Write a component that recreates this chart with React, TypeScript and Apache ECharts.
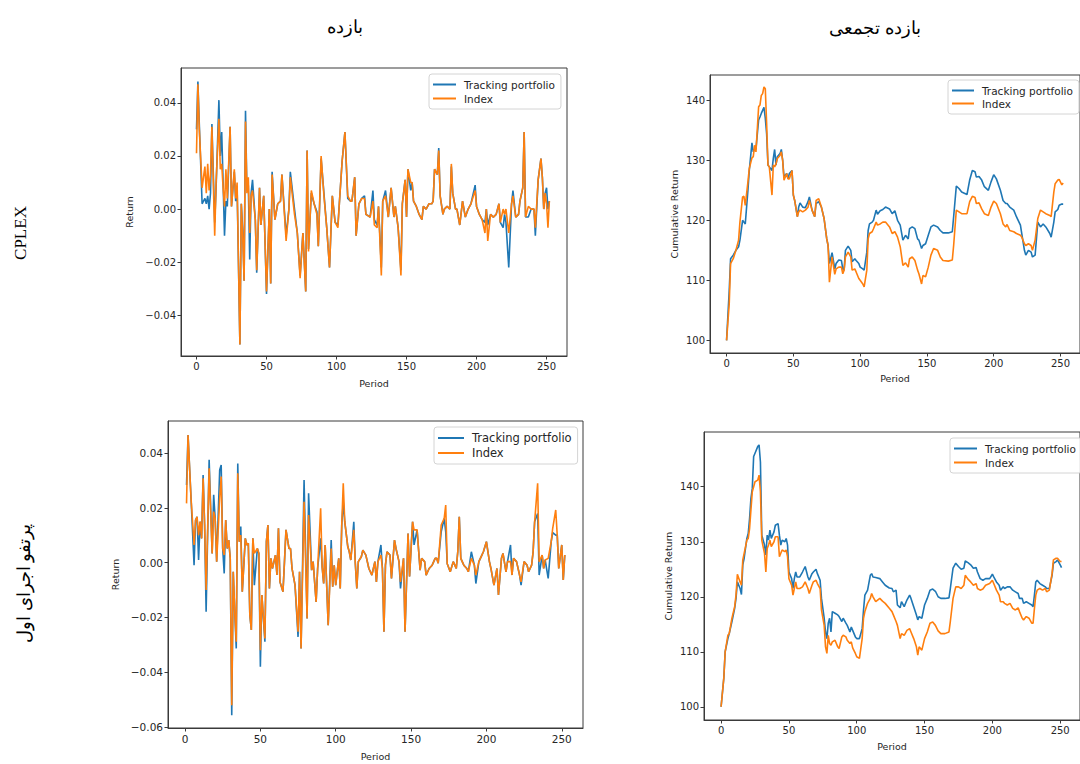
import React, { useEffect, useRef } from "react";
import * as echarts from "echarts";

// ---------- tick labels ----------
const periodTicks = [0, 50, 100, 150, 200, 250];
const returnTicksCplex = [-0.04, -0.02, 0, 0.02, 0.04];
const returnTicksRun1 = [-0.06, -0.04, -0.02, 0, 0.02, 0.04];
const cumulTicks = [100, 110, 120, 130, 140];

const seriesNames = ["Tracking portfolio", "Index"];
const colTitles = ["بازده", "بازده تجمعی"];
const rowTitles = ["CPLEX", "پرتفو اجرای اول"];

// ---------- Panel 1: CPLEX returns ----------
const cplexRetPeriods = [
  0, 1, 2, 4, 5, 6, 7, 8, 9, 10,
  11, 13, 14, 16, 17, 18, 19, 20, 21, 22,
  24, 25, 27, 28, 29, 31, 32, 33, 34, 35,
  36, 37, 38, 39, 40, 42, 43, 45, 46, 48,
  50, 52, 53, 54, 56, 58, 60, 61, 64, 66,
  67, 70, 72, 74, 76, 78, 79, 80, 82, 84,
  86, 87, 89, 91, 93, 95, 97, 99, 101, 102,
  104, 106, 108, 110, 111, 113, 114, 116, 118, 120,
  121, 124, 126, 127, 129, 130, 132, 133, 135, 137,
  139, 141, 142, 144, 146, 147, 149, 150, 151, 153,
  154, 155, 157, 159, 161, 162, 164, 166, 168, 169,
  170, 172, 173, 174, 176, 177, 179, 181, 182, 183,
  185, 186, 188, 190, 192, 194, 196, 199, 200, 202,
  204, 206, 207, 208, 210, 212, 214, 216, 217, 219,
  220, 221, 223, 225, 226, 228, 230, 231, 233, 234,
  235, 237, 239, 241, 242, 244, 246, 247, 248, 249,
  250, 251, 252,
];
const cplexRetTracking = [
  0.030, 0.048, 0.032, 0.002, 0.003, 0.004, 0.002, 0.005, 0.000, 0.006,
  0.032, -0.005, 0.008, 0.041, 0.020, 0.029, 0.010, -0.010, 0.003, 0.001,
  0.031, 0.001, 0.014, 0.003, 0.008, -0.051, 0.002, -0.008, -0.027, 0.037,
  0.007, 0.009, -0.019, 0.006, 0.011, -0.004, -0.024, 0.008, -0.006, 0.005,
  -0.032, 0.000, -0.028, 0.014, -0.004, 0.002, 0.003, 0.013, -0.010, 0.000,
  0.014, 0.000, -0.009, -0.025, -0.009, -0.031, 0.022, -0.015, 0.006, 0.002,
  -0.001, -0.014, 0.019, 0.006, -0.007, -0.022, 0.005, -0.005, -0.006, 0.002,
  0.018, 0.029, 0.004, 0.003, 0.003, 0.012, -0.010, 0.002, 0.004, 0.005,
  -0.002, -0.003, 0.007, -0.004, -0.006, 0.001, -0.022, 0.003, 0.007, -0.003,
  0.008, -0.003, 0.001, -0.007, -0.023, 0.002, 0.011, -0.003, 0.015, 0.007,
  0.010, 0.003, 0.001, -0.002, -0.004, 0.001, 0.000, 0.002, 0.002, 0.003,
  0.015, 0.013, 0.023, 0.005, -0.002, 0.000, 0.001, 0.000, 0.016, 0.006,
  0.000, 0.000, -0.006, 0.003, -0.003, 0.000, 0.002, 0.009, 0.001, -0.002,
  -0.004, -0.005, 0.000, -0.006, -0.002, -0.003, -0.002, 0.002, -0.005, -0.007,
  -0.002, -0.005, -0.022, 0.002, 0.007, -0.003, -0.002, 0.003, 0.008, 0.029,
  -0.003, -0.003, 0.000, 0.000, -0.010, 0.011, 0.019, 0.012, 0.000, 0.006,
  0.008, 0.000, 0.003,
];
const cplexRetIndex = [
  0.021, 0.047, 0.030, 0.008, 0.012, 0.016, 0.006, 0.017, 0.007, 0.013,
  0.031, -0.010, 0.010, 0.034, 0.015, 0.017, 0.008, 0.001, 0.015, 0.004,
  0.031, 0.001, 0.015, 0.004, 0.010, -0.051, 0.002, -0.010, -0.027, 0.033,
  0.006, 0.012, -0.009, 0.005, 0.007, -0.004, -0.023, 0.008, -0.006, 0.005,
  -0.031, 0.000, -0.028, 0.013, -0.004, 0.002, 0.003, 0.013, -0.012, 0.000,
  0.012, -0.002, -0.009, -0.026, -0.009, -0.031, 0.022, -0.016, 0.007, 0.002,
  -0.002, -0.014, 0.020, 0.005, -0.007, -0.022, 0.005, -0.005, -0.007, 0.002,
  0.018, 0.029, 0.005, 0.003, 0.003, 0.012, -0.010, 0.002, 0.004, 0.004,
  -0.002, -0.003, 0.003, -0.006, -0.007, 0.001, -0.025, 0.003, 0.005, -0.003,
  0.008, -0.003, 0.001, -0.007, -0.025, 0.002, 0.011, -0.003, 0.015, 0.010,
  0.010, 0.003, 0.001, -0.002, -0.004, 0.001, 0.000, 0.002, 0.002, 0.003,
  0.015, 0.013, 0.022, 0.005, -0.002, 0.000, 0.001, 0.000, 0.017, 0.006,
  0.000, 0.000, -0.006, 0.003, -0.003, 0.000, 0.002, 0.007, 0.001, -0.002,
  -0.004, -0.009, 0.000, -0.012, -0.002, -0.003, -0.002, 0.002, -0.005, 0.000,
  -0.002, 0.000, -0.009, 0.002, 0.005, -0.003, -0.002, 0.003, 0.008, 0.029,
  -0.003, 0.001, 0.000, 0.000, -0.007, 0.011, 0.019, 0.012, 0.000, 0.006,
  0.002, -0.007, 0.003,
];

// ---------- Panel 2: CPLEX cumulative return ----------
const cplexCumPeriods = [
  0, 2, 3, 5, 7, 9, 10, 12, 13, 14,
  16, 17, 19, 20, 21, 22, 24, 25, 26, 27,
  28, 29, 30, 31, 32, 34, 35, 36, 37, 38,
  40, 41, 42, 43, 45, 46, 47, 49, 50, 51,
  53, 54, 55, 57, 59, 61, 62, 64, 66, 67,
  69, 71, 73, 75, 76, 77, 79, 81, 82, 84,
  86, 87, 88, 89, 91, 93, 94, 96, 97, 99,
  100, 102, 103, 105, 106, 107, 109, 110, 112, 113,
  115, 117, 119, 122, 124, 126, 128, 130, 132, 134,
  136, 137, 139, 141, 143, 144, 146, 147, 149, 151,
  153, 155, 158, 160, 162, 166, 169, 170, 172, 174,
  176, 180, 182, 184, 186, 187, 189, 191, 193, 196,
  198, 200, 202, 205, 207, 209, 210, 212, 215, 217,
  220, 221, 223, 224, 226, 228, 229, 231, 233, 235,
  237, 239, 242, 243, 245, 246, 248, 249, 251, 252,
];
const cplexCumTracking = [
  100, 108.3, 113.6, 114.2, 115, 115.6, 116.7, 120, 119.7, 119.4,
  125, 128.3, 132.9, 131.4, 131.8, 131.9, 136.7, 137.2, 137.8, 138.3,
  138.8, 137, 134.4, 129.2, 128.9, 128.3, 130.3, 131.8, 129.2, 130.6,
  131.1, 131.8, 130, 127.2, 127.8, 126.9, 127.8, 128.3, 124.2, 123.3,
  120.6, 122.2, 122.9, 122.2, 122.1, 123.1, 123.9, 121.7, 120.6, 122.8,
  123.1, 122.2, 120.3, 116.9, 115.8, 112.8, 114.6, 111.9, 112.8, 113.4,
  113.3, 111.9, 111.7, 115, 115.7, 115, 113.1, 113.6, 113.3, 112.8,
  112.2, 111.9, 111.7, 114.7, 118.3, 119.4, 119.7, 120, 121.7, 121,
  121.6, 121.8, 122.2, 121.9, 121.1, 121.6, 120, 119.2, 116.7, 117.5,
  116.9, 118.6, 118.9, 118.6, 116.9, 116.7, 115.3, 115.8, 116.1, 117.5,
  118.9, 119.2, 118.9, 118.3, 117.9, 117.9, 118.1, 120.6, 125.7, 125.3,
  124.7, 124.3, 126.7, 128.3, 128.1, 127.2, 127.3, 126.7, 125.6, 125,
  126.4, 127.6, 126.9, 125, 123.3, 122.8, 122.8, 122.2, 121.7, 120.6,
  119.2, 117.8, 115, 114.2, 115, 114.7, 113.9, 114.2, 119.7, 118.9,
  119.4, 118.9, 117.8, 117.2, 119.7, 121.4, 121.8, 122.5, 122.7, 122.7,
];
const cplexCumIndex = [
  100, 106.1, 112.8, 113.6, 115, 116.7, 119.7, 123.9, 124, 122.5,
  126.4, 128.6, 130.4, 130.6, 132.5, 131.4, 138.9, 139.2, 140.8, 141.1,
  142.2, 141.9, 136.1, 129.2, 128.9, 124.2, 129.2, 128.9, 129.4, 130.3,
  130.8, 131.4, 130, 126.7, 127.8, 126.9, 126.9, 128.3, 124.2, 123.3,
  120.6, 121.4, 121.7, 121.4, 121.7, 122.2, 123.3, 121.7, 120.6, 123.3,
  123.6, 122.2, 120.3, 116.9, 115.8, 109.7, 113.9, 111, 111.9, 112.2,
  112.2, 111.1, 111.7, 113.9, 114.7, 113.9, 111.7, 111.9, 111.4, 110.3,
  110, 109.4, 108.9, 111.7, 116.9, 117.8, 118.1, 118.6, 119.7, 119.2,
  119.4, 119.7, 119.7, 118.9, 117.8, 118.1, 117.2, 115.6, 112.5, 112.9,
  112.2, 113.6, 113.9, 113.3, 111.7, 111.1, 109.4, 110.8, 110.6, 112.2,
  114.2, 115.3, 115, 113.9, 113.3, 113.2, 113.4, 115.8, 121.7, 121.4,
  121.1, 121.1, 123.1, 124, 123.8, 122.8, 122.9, 121.9, 121.1, 120.8,
  122.2, 123.2, 122.8, 121.1, 119.4, 118.9, 119.3, 118.3, 118.1, 117.8,
  117.5, 117.2, 116.1, 115.8, 116.1, 115.8, 115, 116.7, 120.3, 121.7,
  121.4, 121.1, 120.8, 120.6, 124.7, 126.1, 126.7, 126.8, 125.9, 126.2,
];

// ---------- Panel 3: first-run portfolio returns ----------
const run1RetPeriods = [
  1, 2, 4, 6, 7, 8, 9, 10, 11, 12,
  13, 14, 16, 18, 19, 20, 21, 23, 24, 25,
  26, 27, 28, 29, 30, 31, 32, 33, 34, 35,
  36, 37, 38, 40, 41, 42, 43, 44, 45, 46,
  48, 49, 50, 51, 53, 54, 55, 56, 57, 58,
  60, 61, 62, 63, 65, 66, 67, 69, 70, 71,
  73, 75, 76, 77, 79, 81, 82, 84, 85, 87,
  88, 90, 91, 92, 93, 95, 97, 98, 99, 100,
  102, 103, 104, 105, 106, 108, 109, 110, 112, 113,
  114, 115, 117, 118, 120, 122, 124, 126, 127, 128,
  130, 131, 132, 133, 134, 136, 137, 139, 140, 142,
  143, 145, 146, 148, 149, 151, 152, 154, 156, 157,
  159, 160, 162, 164, 166, 167, 168, 170, 172, 173,
  174, 176, 178, 180, 181, 182, 183, 185, 187, 188,
  190, 192, 193, 195, 197, 198, 200, 202, 203, 205,
  207, 208, 210, 211, 213, 214, 216, 217, 218, 220,
  222, 223, 225, 227, 228, 230, 231, 232, 234, 235,
  237, 238, 239, 241, 243, 244, 246, 247, 248, 250,
  251, 252,
];
const run1RetTracking = [
  0.0284, 0.0467, 0.0235, -0.0009, 0.0156, 0.0168, 0.001, 0.015, 0.0089, 0.0321,
  0.0138, -0.0179, 0.0376, 0.0034, 0.0248, 0.0162, 0.0004, 0.0339, 0.0357, 0.0052,
  -0.0039, 0.0156, 0.0052, 0.0083, 0.0016, -0.0557, -0.0033, -0.0179, -0.0313, 0.0363,
  0.0077, 0.0132, -0.0106, 0.0089, 0.0065, 0.0071, -0.0191, -0.0246, 0.0089, -0.0082,
  0.0052, 0.0034, -0.038, -0.0118, -0.0289, 0.0077, 0.0138, -0.0094, 0.0016, -0.0021,
  0.0028, -0.0045, 0.0126, -0.007, -0.0106, 0.0004, 0.012, 0.0052, 0.0052, -0.0021,
  -0.0082, -0.0271, -0.0033, -0.0313, 0.0302, -0.0204, 0.0254, -0.0027, 0.0004, -0.0143,
  -0.0021, 0.0089, -0.0015, -0.0076, 0.0065, -0.0228, 0.0083, -0.0088, -0.0009, -0.0082,
  0.0016, -0.0094, 0.0138, 0.0223, 0.015, 0.0059, 0.004, 0.001, 0.015, -0.0002,
  -0.0094, 0.0004, 0.0022, 0.0046, 0.0028, -0.0021, -0.0045, 0.0004, -0.007, 0.0004,
  0.0065, -0.0021, -0.0252, -0.0009, 0.004, 0.0028, -0.0057, 0.0083, 0.0052, 0.0004,
  -0.0094, 0.0016, -0.0252, 0.0107, -0.005, 0.015, 0.0065, 0.012, -0.0027, 0.0016,
  0.0004, -0.0045, -0.0021, -0.0009, 0.0016, 0.0016, -0.0002, 0.0113, 0.0162, 0.0113,
  -0.0004, -0.0033, 0.0004, -0.0021, 0.004, 0.0168, 0.0016, -0.0009, -0.0021, -0.0033,
  0.004, -0.0009, -0.0076, 0.0004, 0.0028, 0.004, 0.0077, 0.0004, -0.0021, -0.0082,
  -0.0021, -0.0118, 0.0016, 0.0034, -0.0033, 0.0004, 0.0065, -0.0045, 0.0016, 0.0004,
  -0.0045, -0.0082, 0.0004, -0.0009, -0.0033, -0.0009, 0.004, 0.015, 0.018, -0.0045,
  0.0028, -0.0021, 0.001, -0.0057, 0.0077, 0.011, 0.0101, 0.0101, -0.0021, 0.0065,
  -0.0063, 0.0028,
];
const run1RetIndex = [
  0.0217, 0.0467, 0.0235, 0.0065, 0.0156, 0.0168, 0.0101, 0.015, 0.0089, 0.0309,
  0.0138, -0.01, 0.0345, 0.0034, 0.0187, 0.0162, 0.0004, 0.0235, 0.0315, 0.0052,
  0.0028, 0.0156, 0.0052, 0.0083, 0.0016, -0.0521, -0.0033, -0.0179, -0.0289, 0.0327,
  0.0077, 0.0101, -0.0106, 0.0089, 0.0065, 0.0071, -0.0191, -0.0246, 0.0089, 0.0034,
  0.0052, 0.0034, -0.032, -0.0118, -0.0277, 0.0077, 0.0138, -0.0094, 0.0016, -0.0021,
  0.0028, -0.0045, 0.0126, -0.007, -0.0106, 0.0004, 0.012, 0.0052, 0.0052, -0.0021,
  -0.0082, -0.0252, -0.0033, -0.0313, 0.0223, -0.0204, 0.0174, -0.0027, 0.0004, -0.0143,
  -0.0021, 0.0199, -0.0015, -0.0076, 0.0065, -0.0228, 0.0052, -0.0088, -0.0009, -0.0082,
  0.0016, -0.0094, 0.0138, 0.029, 0.015, 0.0059, 0.004, 0.001, 0.012, -0.0002,
  -0.0094, 0.0004, 0.0022, 0.0046, 0.0028, -0.0021, -0.0045, 0.0004, -0.007, 0.0004,
  0.0028, -0.0021, -0.0252, -0.0009, 0.004, 0.0028, -0.0057, 0.0083, 0.0052, 0.0004,
  -0.007, 0.0016, -0.0252, 0.0107, -0.005, 0.015, 0.012, 0.012, -0.0027, 0.0016,
  0.0004, -0.0045, -0.0021, -0.0009, 0.0016, 0.0016, -0.0002, 0.0138, 0.0162, 0.0211,
  -0.0004, -0.0033, 0.0004, -0.0021, 0.004, 0.0168, 0.0016, -0.0009, -0.0021, -0.0033,
  0.0016, -0.0009, -0.0045, 0.0004, 0.0028, 0.004, 0.0077, 0.0004, -0.0021, -0.0082,
  -0.0021, -0.0118, 0.0016, 0.0034, -0.0033, 0.0004, 0.0004, -0.0045, 0.0016, 0.0004,
  -0.0045, -0.007, 0.0004, -0.0009, -0.0033, -0.0009, 0.004, 0.015, 0.029, 0.0004,
  0.0028, -0.0021, 0.001, 0.0016, 0.0077, 0.0126, 0.0193, 0.0101, -0.0021, 0.0065,
  -0.0063, 0.0028,
];

// ---------- Panel 4: first-run portfolio cumulative return ----------
const run1CumPeriods = [
  0, 2, 3, 5, 6, 8, 10, 11, 12, 14,
  15, 16, 17, 19, 20, 21, 22, 23, 24, 25,
  27, 28, 29, 30, 32, 33, 34, 35, 36, 37,
  39, 40, 42, 43, 44, 45, 47, 48, 49, 50,
  52, 53, 54, 55, 56, 58, 60, 62, 64, 65,
  67, 68, 70, 71, 73, 74, 76, 77, 78, 79,
  80, 81, 82, 84, 86, 87, 89, 90, 92, 93,
  95, 96, 97, 99, 100, 102, 104, 105, 106, 108,
  110, 111, 112, 114, 117, 119, 121, 124, 126, 127,
  129, 130, 132, 133, 135, 137, 139, 140, 142, 144,
  145, 146, 148, 150, 152, 154, 156, 158, 160, 162,
  165, 168, 169, 171, 173, 175, 177, 179, 180, 182,
  184, 186, 188, 189, 191, 193, 195, 198, 200, 201,
  203, 205, 206, 208, 209, 211, 213, 215, 217, 219,
  220, 222, 223, 225, 227, 229, 230, 231, 232, 233,
  235, 237, 239, 240, 242, 244, 245, 247, 248, 250,
  251,
];
const run1CumTracking = [
  100, 105.2, 110, 112.4, 113.3, 115.5, 117.9, 119.7, 122.7, 121.5,
  120.4, 125.8, 127, 130.6, 131.5, 134.2, 137.9, 139.7, 145.5, 146.1,
  147.3, 147.6, 144.5, 131.2, 129.4, 127.6, 131.2, 130.3, 132.1, 130.6,
  131.8, 133, 133.3, 131.2, 129.4, 130.3, 130, 130.6, 129.4, 124.5,
  123.3, 121.5, 123.3, 124.5, 123.6, 123.6, 124.5, 125.5, 123.6, 123,
  124.2, 124.5, 125, 124.2, 123, 119.7, 116.1, 113.6, 112.4, 115.2,
  116.1, 113.6, 117.3, 117, 116.7, 116.4, 115.5, 116.1, 115.2, 114.8,
  113.6, 114.5, 113.9, 112.7, 112.4, 112.4, 114.2, 117.6, 120.3, 121.2,
  123.9, 124.2, 123.6, 123.5, 123.3, 122.7, 122.1, 121.6, 121.5, 120.9,
  121.2, 118.5, 118, 119.1, 118.2, 119.4, 120.3, 119.7, 118.2, 116.7,
  115.8, 116.4, 116.1, 118.5, 119.7, 121.2, 121.4, 121, 120, 119.7,
  119.7, 119.8, 121.5, 125.2, 126.1, 125.5, 125, 125.2, 126.5, 126.2,
  125.8, 125.2, 125.3, 124.5, 123.3, 123, 123.3, 123.3, 124.1, 123.6,
  122.7, 122.1, 121.2, 121.8, 121.5, 121.8, 121.8, 121.2, 120.9, 120.6,
  119.7, 119.7, 118.8, 119.1, 118.8, 118.5, 118.2, 120.3, 122.7, 123,
  122.4, 122.1, 121.8, 121.5, 121.5, 123.9, 126.1, 126.4, 126.7, 125.8,
  125.3,
];
const run1CumIndex = [
  100, 105.2, 110, 113, 113.3, 116.1, 118.2, 120.3, 124.1, 122.7,
  122.1, 126.7, 127.9, 130.3, 130.6, 132.4, 135.8, 139.1, 140, 140.9,
  141.2, 142.1, 139.1, 130.3, 127.9, 124.5, 128.8, 129.4, 130.3, 129.1,
  130, 130.9, 130.9, 127.3, 127.9, 128.5, 128.2, 128.5, 127.3, 123.3,
  122.1, 120.3, 121.5, 122.7, 121.5, 121.5, 121.8, 122.7, 121.5, 120.6,
  122.1, 122.7, 123, 122.4, 121.5, 117.6, 114.8, 110.9, 109.7, 113,
  111.5, 111.2, 111.8, 112.1, 110.9, 110.6, 112.7, 113, 112.7, 112.1,
  111.5, 111.8, 110.7, 109.7, 109.1, 108.8, 112.4, 116.1, 117.3, 118.8,
  119.7, 120.6, 120, 119.1, 119.7, 119.2, 118.8, 117.9, 117.3, 116.7,
  115.5, 114.8, 112.4, 113.3, 113, 113.9, 114.2, 113.6, 112.4, 110.9,
  109.4, 110.9, 110.3, 112.4, 113.6, 115.2, 115.4, 114.8, 113.8, 113.3,
  113.3, 113.6, 115.5, 119.7, 121.8, 121.8, 121.5, 122.1, 123.9, 123.2,
  122.7, 122.1, 122.4, 121.5, 121.2, 121.4, 122.1, 122.4, 123, 122.4,
  121.2, 120.3, 119.1, 119.1, 118.8, 118.5, 118.8, 117.9, 117.6, 118,
  117.3, 116.1, 115.8, 116.4, 116.1, 115.2, 115.2, 117.9, 120.3, 121.2,
  121.5, 121.2, 121.5, 120.9, 121.2, 124.2, 126.7, 127, 127, 126.4,
  126.4,
];

const BLUE = "#1f77b4";
const ORANGE = "#ff7f0e";
const FONT = "DejaVu Sans";
const TEXT = "#262626";
const SPINE = "#3a3a3a";

const fmtReturn = (v: number) => {
  const s = Math.abs(v) < 1e-9 ? "0.00" : v.toFixed(2);
  return s.replace("-", "\u2212");
};

const pairs = (xs: number[], ys: number[]) => xs.map((x, i) => [x, ys[i]]);

export default function App() {
  const ref = useRef<HTMLDivElement>(null);

  useEffect(() => {
    if (!ref.current) return;
    const chart = echarts.init(ref.current, undefined, { renderer: "svg" });

    const panels = [
      { grid: { left: 181, top: 68, width: 386, height: 288 }, x: [-11.07, 264.6], y: [-0.0553, 0.0531], yTicks: returnTicksCplex, yFmt: fmtReturn, yName: "Return", yGap: 47, xGap: 22, fs: 10 },
      { grid: { left: 710, top: 75, width: 372, height: 278 }, x: [-12.4, 264.6], y: [97.9, 144.2], yTicks: cumulTicks, yFmt: (v: number) => String(v), yName: "Cumulative Return", yGap: 31, xGap: 20, fs: 10 },
      { grid: { left: 168, top: 421, width: 415, height: 307 }, x: [-11.3, 264.1], y: [-0.0604, 0.0518], yTicks: returnTicksRun1, yFmt: fmtReturn, yName: "Return", yGap: 48, xGap: 23, fs: 10.5 },
      { grid: { left: 704, top: 432, width: 385, height: 288 }, x: [-12.6, 264.6], y: [97.6, 149.95], yTicks: cumulTicks, yFmt: (v: number) => String(v), yName: "Cumulative Return", yGap: 31, xGap: 21, fs: 10 },
    ];

    const data = [
      [cplexRetPeriods, cplexRetTracking, cplexRetIndex],
      [cplexCumPeriods, cplexCumTracking, cplexCumIndex],
      [run1RetPeriods, run1RetTracking, run1RetIndex],
      [run1CumPeriods, run1CumTracking, run1CumIndex],
    ];

    const legendPos = [
      { left: 429, top: 74, fs: 10.5, w: 23, gap: 3 },
      { left: 948, top: 80, fs: 10.5, w: 22, gap: 2 },
      { left: 434, top: 427, fs: 11.5, w: 26, gap: 3 },
      { left: 950, top: 438, fs: 10.5, w: 23, gap: 3 },
    ];

    const option: any = {
      animation: false,
      backgroundColor: "#ffffff",
      grid: panels.map((p) => ({
        ...p.grid,
        show: true,
        borderColor: SPINE,
        borderWidth: 1,
        backgroundColor: "transparent",
        containLabel: false,
      })),
      xAxis: panels.map((p, i) => ({
        type: "value",
        gridIndex: i,
        min: p.x[0],
        max: p.x[1],
        name: "Period",
        nameLocation: "middle",
        nameGap: p.xGap,
        nameTextStyle: { fontFamily: FONT, fontSize: 9.5, color: TEXT },
        axisLine: { show: true, onZero: false, lineStyle: { color: SPINE, width: 1 } },
        axisTick: { show: true, length: 3.5, lineStyle: { color: SPINE }, customValues: periodTicks },
        axisLabel: { show: true, margin: 5, fontFamily: FONT, fontSize: p.fs, color: TEXT, customValues: periodTicks, formatter: (v: number) => String(v) },
        splitLine: { show: false },
      })),
      yAxis: panels.map((p, i) => ({
        type: "value",
        gridIndex: i,
        min: p.y[0],
        max: p.y[1],
        name: p.yName,
        nameLocation: "middle",
        nameRotate: 90,
        nameGap: p.yGap,
        nameTextStyle: { fontFamily: FONT, fontSize: 9.5, color: TEXT },
        axisLine: { show: true, onZero: false, lineStyle: { color: SPINE, width: 1 } },
        axisTick: { show: true, length: 3.5, lineStyle: { color: SPINE }, customValues: p.yTicks },
        axisLabel: { show: true, margin: 5, fontFamily: FONT, fontSize: p.fs, color: TEXT, customValues: p.yTicks, formatter: p.yFmt },
        splitLine: { show: false },
      })),
      legend: legendPos.map((l) => ({
        left: l.left,
        top: l.top,
        orient: "vertical",
        icon: "rect",
        itemWidth: l.w,
        itemHeight: 2,
        itemGap: l.gap,
        padding: [5, 6, 5, 4],
        borderColor: "#d4d4d4",
        borderWidth: 1,
        borderRadius: 3,
        backgroundColor: "rgba(255,255,255,0.85)",
        selectedMode: false,
        data: seriesNames,
        textStyle: { fontFamily: FONT, fontSize: l.fs, color: TEXT, padding: [0, 0, 0, 3] },
      })),
      series: data.flatMap((d, i) => [
        {
          name: seriesNames[0],
          type: "line",
          xAxisIndex: i,
          yAxisIndex: i,
          data: pairs(d[0], d[1]),
          symbol: "none",
          color: BLUE,
          lineStyle: { color: BLUE, width: 1.6 },
          z: 2,
        },
        {
          name: seriesNames[1],
          type: "line",
          xAxisIndex: i,
          yAxisIndex: i,
          data: pairs(d[0], d[2]),
          symbol: "none",
          color: ORANGE,
          lineStyle: { color: ORANGE, width: 1.6 },
          z: 3,
        },
      ]),
      graphic: [
        { type: "text", x: 345, y: 27, style: { text: colTitles[0], fontFamily: "Liberation Serif, DejaVu Serif, serif", fontSize: 18, fill: "#000", align: "center", verticalAlign: "middle" } },
        { type: "text", x: 875, y: 28, style: { text: colTitles[1], fontFamily: "Liberation Serif, DejaVu Serif, serif", fontSize: 18, fill: "#000", align: "center", verticalAlign: "middle" } },
        { type: "text", x: 20, y: 233, rotation: Math.PI / 2, style: { text: rowTitles[0], fontFamily: "Liberation Serif, serif", fontSize: 17, fill: "#000", align: "center", verticalAlign: "middle" } },
        { type: "text", x: 24, y: 583, rotation: Math.PI / 2, style: { text: rowTitles[1], fontFamily: "Liberation Serif, DejaVu Serif, serif", fontSize: 18, fill: "#000", align: "center", verticalAlign: "middle" } },
      ],
    };

    chart.setOption(option);
    return () => chart.dispose();
  }, []);

  return (
    <div
      ref={ref}
      style={{ position: "absolute", left: 0, top: 0, width: 1080, height: 764, background: "#fff" }}
    />
  );
}
